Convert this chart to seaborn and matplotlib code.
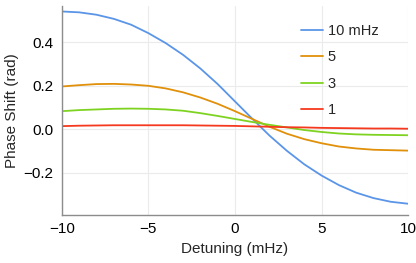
import numpy as np
import pandas as pd
import matplotlib
matplotlib.use('Agg')
import matplotlib.pyplot as plt
from matplotlib.ticker import MultipleLocator
import seaborn as sns

sns.set_style("white")
plt.rcParams['font.family'] = ['Liberation Sans', 'DejaVu Sans']
plt.rcParams['axes.unicode_minus'] = True

# %% data
detuning = list(range(-10, 11))
phase_10 = [0.543, 0.539, 0.528, 0.509, 0.482, 0.443, 0.397, 0.343, 0.280, 0.208,
            0.128, 0.048, -0.030, -0.100, -0.162, -0.214, -0.258, -0.293, -0.318,
            -0.335, -0.344]
phase_5 = [0.197, 0.203, 0.208, 0.209, 0.206, 0.200, 0.188, 0.170, 0.146, 0.117,
           0.083, 0.047, 0.011, -0.021, -0.046, -0.065, -0.080, -0.089, -0.095,
           -0.097, -0.099]
phase_3 = [0.083, 0.088, 0.091, 0.094, 0.095, 0.094, 0.091, 0.085, 0.074, 0.061,
           0.047, 0.033, 0.020, 0.008, -0.004, -0.013, -0.020, -0.024, -0.026,
           -0.027, -0.028]
phase_1 = [0.014, 0.016, 0.017, 0.018, 0.018, 0.018, 0.018, 0.018, 0.017, 0.016,
           0.015, 0.013, 0.011, 0.009, 0.008, 0.006, 0.005, 0.004, 0.003,
           0.003, 0.002]
series_labels = ['10 mHz', '5', '3', '1']
series_colors = ['#5B95E8', '#E0900A', '#7ED321', '#F5391E']

frames = []
for lab, vals in zip(series_labels, [phase_10, phase_5, phase_3, phase_1]):
    frames.append(pd.DataFrame({'Detuning': detuning, 'Phase': vals, 'Width': lab}))
df = pd.concat(frames, ignore_index=True)

# %% plot
fig = plt.figure(figsize=(4.16, 2.63), dpi=100)
ax = fig.add_axes([0.1486, 0.1825, 0.8325, 0.7945])

sns.lineplot(data=df, x='Detuning', y='Phase', hue='Width',
             palette=dict(zip(series_labels, series_colors)),
             linewidth=1.3, ax=ax, legend=False)

ax.set_xlim(-10, 10)
ax.set_ylim(-0.396, 0.568)

ax.xaxis.set_major_locator(MultipleLocator(5))
ax.xaxis.set_minor_locator(MultipleLocator(1))
ax.yaxis.set_major_locator(MultipleLocator(0.2))
ax.yaxis.set_minor_locator(MultipleLocator(0.05))
ax.yaxis.set_major_formatter(lambda v, p: ('%.1f' % v).replace('-', '\u2212'))
ax.xaxis.set_major_formatter(lambda v, p: ('%d' % v).replace('-', '\u2212'))

ax.grid(True, which='major', color='#ebebeb', linewidth=0.8)
ax.set_axisbelow(True)
for s in ['top', 'right']:
    ax.spines[s].set_visible(False)
for s in ['left', 'bottom']:
    ax.spines[s].set_color('#8c8c8c')
    ax.spines[s].set_linewidth(1.0)

ax.tick_params(which='major', direction='in', length=4.5, width=0.8,
               color='#8c8c8c', labelsize=11, labelcolor='black', pad=5)
ax.tick_params(which='minor', direction='in', length=2.5, width=0.7,
               color='#8c8c8c')
ax.tick_params(axis='y', which='major', pad=6)

ax.set_xlabel('Detuning (mHz)', fontsize=11, labelpad=4)
ax.set_ylabel('Phase Shift (rad)', fontsize=11, labelpad=3)

handles = [plt.Line2D([], [], color=c, linewidth=1.3) for c in series_colors]
ax.legend(handles, series_labels, loc='upper left',
          bbox_to_anchor=(300.7 / 416, 1 - 24 / 263), bbox_transform=fig.transFigure,
          frameon=False, fontsize=10.5, handlelength=1.5, handletextpad=0.35,
          labelspacing=0.85, borderaxespad=0, borderpad=0)

fig.savefig('out.png', dpi=100)
